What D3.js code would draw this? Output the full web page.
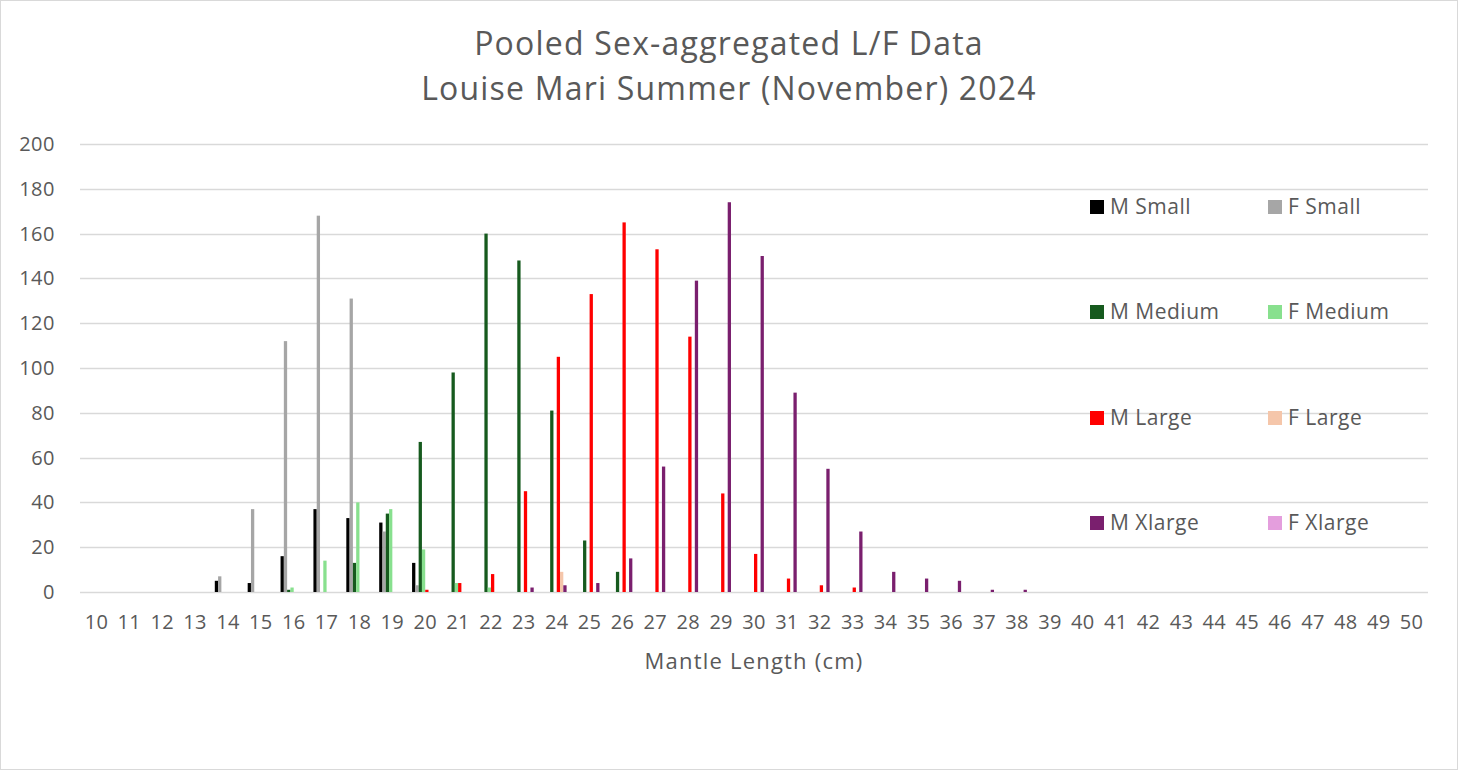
<!DOCTYPE html>
<html>
<head>
<meta charset="utf-8">
<script src="https://cdn.jsdelivr.net/npm/d3@7"></script>
<style>
  body { margin: 0; background: #fff; }
  text { font-family: "Open Sans", sans-serif; fill: #595959; }
</style>
</head>
<body>
<script>
// mantle length classes (cm)
var categories = ["10","11","12","13","14","15","16","17","18","19","20","21","22","23","24","25","26","27","28","29","30",
                  "31","32","33","34","35","36","37","38","39","40","41","42","43","44","45","46","47","48","49","50"];

//               10 11 12 13 14 15  16  17  18  19  20  21  22  23  24  25  26  27  28  29  30 31 32 33 34 35 36 37 38 39..50
var mSmall   = [0, 0, 0, 0, 5, 4, 16, 37, 33, 31, 13,  0,  0,  0,  0,  0,  0,  0,  0,  0,  0, 0, 0, 0, 0, 0, 0, 0, 0, 0,0,0,0,0,0,0,0,0,0,0,0];
var fSmall   = [0, 0, 0, 0, 7,37,112,168,131, 27,  3,  0,  0,  0,  0,  0,  0,  0,  0,  0,  0, 0, 0, 0, 0, 0, 0, 0, 0, 0,0,0,0,0,0,0,0,0,0,0,0];
var mMedium  = [0, 0, 0, 0, 0, 0,  1,  0, 13, 35, 67, 98,160,148, 81, 23,  9,  0,  0,  0,  0, 0, 0, 0, 0, 0, 0, 0, 0, 0,0,0,0,0,0,0,0,0,0,0,0];
var fMedium  = [0, 0, 0, 0, 0, 0,  2, 14, 40, 37, 19,  4,  2,  0,  0,  0,  0,  0,  0,  0,  0, 0, 0, 0, 0, 0, 0, 0, 0, 0,0,0,0,0,0,0,0,0,0,0,0];
var mLarge   = [0, 0, 0, 0, 0, 0,  0,  0,  0,  0,  1,  4,  8, 45,105,133,165,153,114, 44, 17, 6, 3, 2, 0, 0, 0, 0, 0, 0,0,0,0,0,0,0,0,0,0,0,0];
var fLarge   = [0, 0, 0, 0, 0, 0,  0,  0,  0,  0,  0,  0,  0,  0,  9,  0,  0,  0,  0,  0,  0, 0, 0, 0, 0, 0, 0, 0, 0, 0,0,0,0,0,0,0,0,0,0,0,0];
var mXlarge  = [0, 0, 0, 0, 0, 0,  0,  0,  0,  0,  0,  0,  0,  2,  3,  4, 15, 56,139,174,150,89,55,27, 9, 6, 5, 1, 1, 0,0,0,0,0,0,0,0,0,0,0,0];
var fXlarge  = [0, 0, 0, 0, 0, 0,  0,  0,  0,  0,  0,  0,  0,  0,  0,  0,  0,  0,  0,  0,  0, 0, 0, 0, 0, 0, 0, 0, 0, 0,0,0,0,0,0,0,0,0,0,0,0];

var seriesNames = ["M Small","F Small","M Medium","F Medium","M Large","F Large","M Xlarge","F Xlarge"];
var seriesValues = [mSmall, fSmall, mMedium, fMedium, mLarge, fLarge, mXlarge, fXlarge];
var seriesColors = ["#000000","#a6a6a6","#165a1e","#88e08e","#ff0000","#f5c6aa","#7a1f6e","#e49edd"];
var yTicks = [0,20,40,60,80,100,120,140,160,180,200];

var width = 1459, height = 771;

var svg = d3.select("body").append("svg").attr("width", width).attr("height", height);

svg.append("rect")
    .attr("x", 0.5).attr("y", 0.5)
    .attr("width", width - 2).attr("height", height - 2)
    .attr("fill", "#fff").attr("stroke", "#d9d9d9");

var x = d3.scaleBand().domain(categories).range([80, 1428]);
var xInner = d3.scaleBand().domain(d3.range(seriesNames.length))
    .range([0, x.bandwidth()]).paddingInner(0).paddingOuter(1);
var y = d3.scaleLinear().domain([0, 200]).range([592, 144]);

// gridlines
svg.append("g").selectAll("line")
    .data(yTicks)
    .enter().append("line")
      .attr("x1", 80).attr("x2", 1428)
      .attr("y1", function(d){ return Math.round(y(d)) + 0.5; })
      .attr("y2", function(d){ return Math.round(y(d)) + 0.5; })
      .attr("stroke", "#d9d9d9").attr("stroke-width", 1.3);

// y labels
svg.append("g").selectAll("text")
    .data(yTicks)
    .enter().append("text")
      .attr("x", 55)
      .attr("y", function(d){ return y(d); })
      .attr("dy", "0.35em")
      .attr("text-anchor", "end")
      .style("font-size", "20px").style("letter-spacing", "0.5px")
      .text(function(d){ return d; });

// x labels
svg.append("g").selectAll("text")
    .data(categories)
    .enter().append("text")
      .attr("x", function(d){ return x(d) + x.bandwidth() / 2; })
      .attr("y", 622)
      .attr("dy", "0.35em")
      .attr("text-anchor", "middle")
      .style("font-size", "20px").style("letter-spacing", "0.3px")
      .text(function(d){ return d; });

// bars
var groups = svg.append("g").selectAll("g")
    .data(seriesValues)
    .enter().append("g")
      .attr("fill", function(d, i){ return seriesColors[i]; });

groups.each(function(vals, si){
  d3.select(this).selectAll("rect")
    .data(vals.map(function(v, ci){ return {cat: categories[ci], v: v}; }).filter(function(d){ return d.v > 0; }))
    .enter().append("rect")
      .attr("x", function(d){ return x(d.cat) + xInner(si); })
      .attr("width", xInner.bandwidth())
      .attr("y", function(d){ return y(d.v); })
      .attr("height", function(d){ return y(0) - y(d.v); });
});

// title
svg.append("text").attr("x", 729).attr("y", 44).attr("dy", "0.35em")
    .attr("text-anchor", "middle").style("font-size", "32px").style("letter-spacing", "1.2px")
    .text("Pooled Sex-aggregated L/F Data");
svg.append("text").attr("x", 729).attr("y", 89).attr("dy", "0.35em")
    .attr("text-anchor", "middle").style("font-size", "32px").style("letter-spacing", "1.2px")
    .text("Louise Mari Summer (November) 2024");

// axis title
svg.append("text").attr("x", 754).attr("y", 661).attr("dy", "0.35em")
    .attr("text-anchor", "middle").style("font-size", "22px").style("letter-spacing", "1.2px")
    .text("Mantle Length (cm)");

// legend, 2 columns x 4 rows
var legendRows = [207, 312, 418, 523];
var legend = svg.append("g").selectAll("g")
    .data(seriesNames)
    .enter().append("g")
      .attr("transform", function(d, i){
        return "translate(" + (i % 2 === 0 ? 1090 : 1268) + "," + legendRows[Math.floor(i / 2)] + ")";
      });
legend.append("rect")
    .attr("x", 0).attr("y", -7).attr("width", 14).attr("height", 14)
    .attr("fill", function(d, i){ return seriesColors[i]; });
legend.append("text")
    .attr("x", 20).attr("dy", "0.35em")
    .style("font-size", "21px").style("letter-spacing", "0.5px")
    .text(function(d){ return d; });
</script>
</body>
</html>
